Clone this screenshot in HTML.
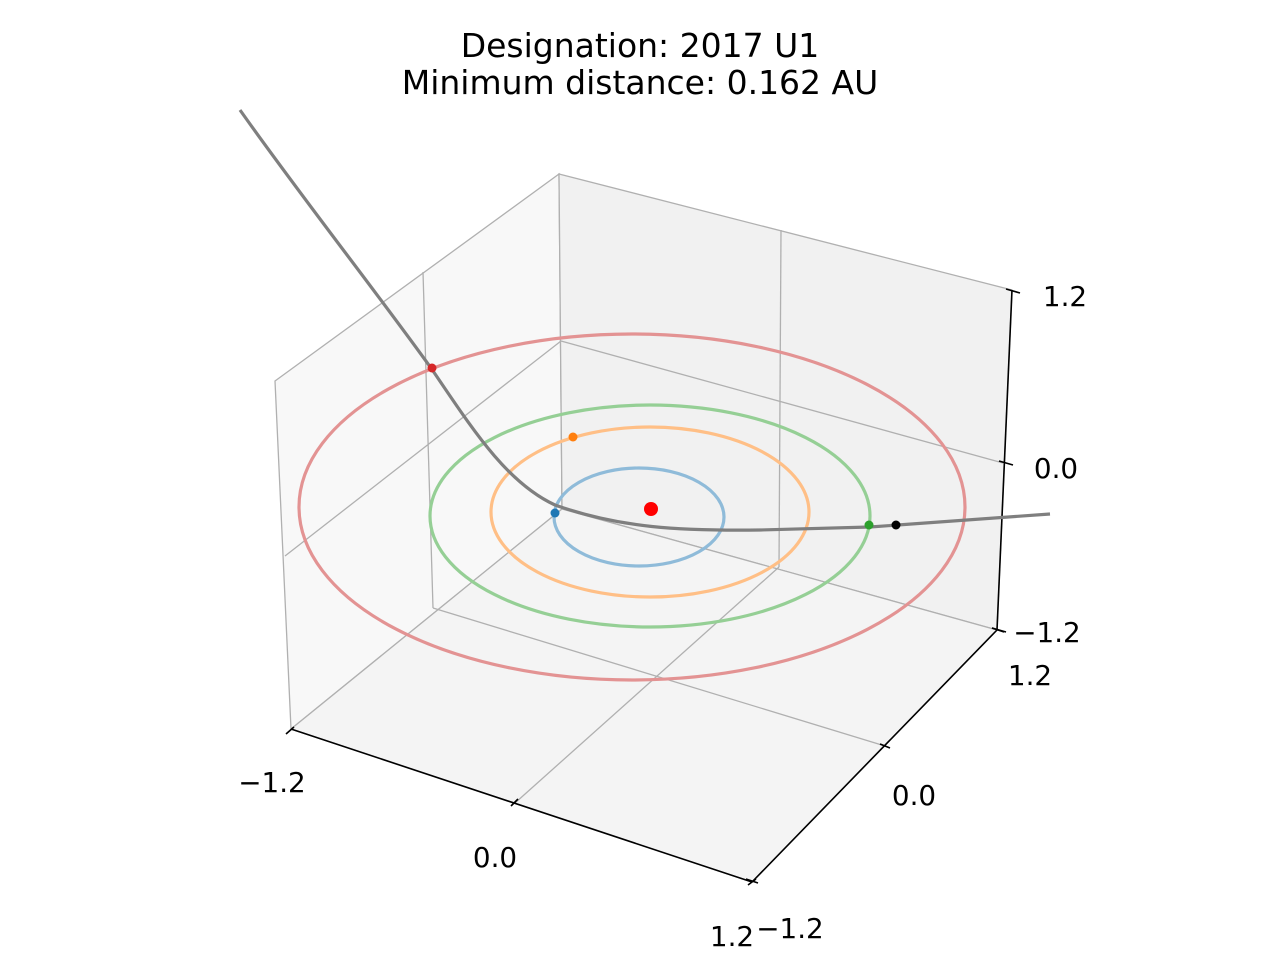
<!DOCTYPE html>
<html><head><meta charset="utf-8"><style>
html,body{margin:0;padding:0;background:#fff;width:1280px;height:960px;overflow:hidden}
svg text{font-family:"DejaVu Sans","Liberation Sans",sans-serif;fill:#000}
</style></head><body>
<svg width="1280" height="960" viewBox="0 0 1280 960" xmlns="http://www.w3.org/2000/svg">
<polygon points="275,381 559,174 562,509 291,729" fill="#f8f8f8" stroke="#b0b0b0" stroke-width="1.3"/>
<polygon points="559,174 1012,290 997,630 562,509" fill="#f1f1f1" stroke="#b0b0b0" stroke-width="1.3"/>
<polygon points="291,729 752,882 997,630 562,509" fill="#f4f4f4" stroke="#b0b0b0" stroke-width="1.3"/>
<g stroke="#b0b0b0" stroke-width="1.3" fill="none">
<line x1="423" y1="272" x2="433" y2="608"/>
<line x1="285" y1="556" x2="561" y2="341"/>
<line x1="561" y1="341" x2="1003" y2="463"/>
<line x1="781" y1="230" x2="779" y2="567"/>
<line x1="433" y1="608" x2="885" y2="746"/>
<line x1="515" y1="803" x2="779" y2="567"/>
</g>
<g stroke="#000" stroke-width="1.6" fill="none">
<line x1="291" y1="729" x2="752" y2="882"/>
<line x1="752" y1="882" x2="997" y2="630"/>
<line x1="997" y1="630" x2="1012" y2="290"/>
<line x1="286" y1="734" x2="294" y2="727"/>
<line x1="511" y1="806" x2="518" y2="799"/>
<line x1="748" y1="885" x2="756" y2="879"/>
<line x1="746" y1="879" x2="758" y2="883"/>
<line x1="880" y1="744" x2="890" y2="748"/>
<line x1="992" y1="628" x2="1004" y2="632"/>
<line x1="1006" y1="289" x2="1020" y2="293"/>
<line x1="999" y1="461" x2="1013" y2="465"/>
<line x1="992" y1="628" x2="1006" y2="632"/>
</g>
<g font-size="27.8">
<text x="272" y="792" text-anchor="middle">−1.2</text>
<text x="495" y="867" text-anchor="middle">0.0</text>
<text x="732" y="946" text-anchor="middle">1.2</text>
<text x="790" y="938" text-anchor="middle">−1.2</text>
<text x="914" y="805" text-anchor="middle">0.0</text>
<text x="1030" y="685" text-anchor="middle">1.2</text>
<text x="1065" y="306" text-anchor="middle">1.2</text>
<text x="1056" y="478" text-anchor="middle">0.0</text>
<text x="1047" y="642" text-anchor="middle">−1.2</text>
</g>
<g fill="none" stroke-width="3.2">
<ellipse cx="632" cy="507" rx="333" ry="173" stroke="#e39393"/>
<ellipse cx="650" cy="516" rx="220" ry="111" stroke="#95cf95"/>
<ellipse cx="650" cy="512" rx="159" ry="85" stroke="#ffbf86"/>
<ellipse cx="639" cy="517" rx="85" ry="49" stroke="#8fbbd9"/>
</g>
<path fill="none" stroke="#7f7f7f" stroke-width="3.2" d="M240,110 C300,195 375,290 431,368 C470,425 505,482 555,505 C620,528 680,531 760,530 L870,527 L1050,514"/>
<circle cx="432" cy="368" r="4.5" fill="#d62728"/>
<circle cx="573" cy="437" r="4.5" fill="#ff7f0e"/>
<circle cx="555" cy="513" r="4.5" fill="#1f77b4"/>
<circle cx="869" cy="525" r="4.5" fill="#2ca02c"/>
<circle cx="896" cy="525" r="4.5" fill="#000"/>
<circle cx="651" cy="509" r="7" fill="#ff0000"/>
<g font-size="33" text-anchor="middle">
<text x="640" y="57">Designation: 2017 U1</text>
<text x="640" y="94">Minimum distance: 0.162 AU</text>
</g>
</svg>
</body></html>
